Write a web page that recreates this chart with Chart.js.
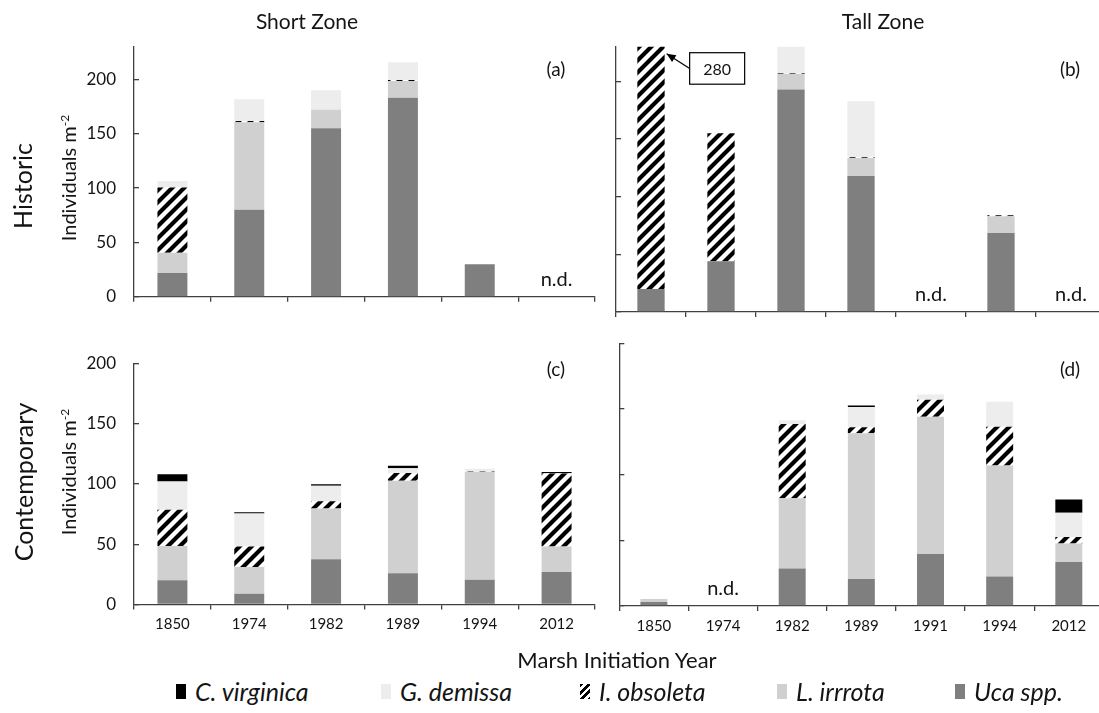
<!DOCTYPE html>
<html>
<head>
<meta charset="utf-8">
<title>Marsh invertebrate densities</title>
<script src="https://cdn.jsdelivr.net/npm/chart.js@4.4.1/dist/chart.umd.min.js"></script>
<style>
  html, body { margin: 0; padding: 0; background: #fff; }
  #page { position: relative; width: 1099px; height: 713px; overflow: hidden;
          font-family: Lato, "Open Sans", sans-serif; color: #141414; }
  #page canvas { position: absolute; }
  .txt { position: absolute; white-space: nowrap; transform: translate(-50%, -50%); line-height: 1; }
  .vert { position: absolute; white-space: nowrap; line-height: 1;
          transform: translate(-50%, -50%) rotate(-90deg); }
  .vert sup { font-size: 0.6em; vertical-align: 0.55em; }
  .leg { position: absolute; top: 691px; transform: translateY(-50%); display: flex; align-items: center;
         font-style: italic; font-size: 25px; white-space: nowrap; }
  .sw { width: 10px; height: 15px; margin-right: 9px; }
</style>
</head>
<body>
<div id="page">
  <canvas id="cA" width="600" height="330" style="left:0;top:0"></canvas>
  <canvas id="cB" width="520" height="330" style="left:590px;top:0"></canvas>
  <canvas id="cC" width="600" height="320" style="left:0;top:330px"></canvas>
  <canvas id="cD" width="520" height="320" style="left:590px;top:330px"></canvas>

  <div class="txt" style="left:307px;top:20px;font-size:21px">Short Zone</div>
  <div class="txt" style="left:883px;top:20px;font-size:21px">Tall Zone</div>

  <div class="vert" style="left:22px;top:186px;font-size:25px">Historic</div>
  <div class="vert" style="left:68px;top:178px;font-size:20px">Individuals m<sup>-2</sup></div>
  <div class="vert" style="left:23px;top:482px;font-size:25px">Contemporary</div>
  <div class="vert" style="left:68px;top:472px;font-size:20px">Individuals m<sup>-2</sup></div>

  <div class="txt" style="left:617px;top:660px;font-size:22px">Marsh Initiation Year</div>
  <div id="legend"></div>
</div>

<script>
// ---- categories ----
const shortYears = ['1850', '1974', '1982', '1989', '1994', '2012'];
const tallYears  = ['1850', '1974', '1982', '1989', '1991', '1994', '2012'];
const species = ['Uca spp.', 'L. irrrota', 'I. obsoleta', 'G. demissa', 'C. virginica'];
const legendOrder = ['C. virginica', 'G. demissa', 'I. obsoleta', 'L. irrrota', 'Uca spp.'];

// ---- (a) historic, short zone (null = no data) ----
const histShortUca = [22, 80, 155, 183, 30, null];
const histShortLit = [18.5, 80.5, 17, 15.5, 0, null];
const histShortIly = [60, 1.2, 0, 0.8, 0, null];
const histShortGeu = [6, 20, 18, 16.5, 0, null];
const histShortCra = [0, 0, 0, 0, 0, null];

// ---- (b) historic, tall zone ----
const histTallUca = [20, 44, 193, 118, null, 68.5, null];
const histTallLit = [0, 0, 13.5, 15.5, null, 14.5, null];
const histTallIly = [260, 111, 0.8, 0.6, null, 0.8, null];
const histTallGeu = [0, 0, 30, 48.5, null, 0, null];
const histTallCra = [0, 0, 0, 0, null, 0, null];

// ---- (c) contemporary, short zone ----
const contShortUca = [20, 9, 37.5, 26, 20.5, 27];
const contShortLit = [28.5, 22, 42, 76.5, 89.5, 21];
const contShortIly = [30, 17, 6, 6.5, 0.5, 60.5];
const contShortGeu = [23.5, 27.5, 13, 4, 2, 0.3];
const contShortCra = [6, 1, 1.2, 2, 0, 1];

// ---- (d) contemporary, tall zone ----
const contTallUca = [3, null, 28.5, 20.5, 39.5, 22.5, 33.5];
const contTallLit = [2.3, null, 53.5, 111, 104.5, 84.5, 14];
const contTallIly = [0, null, 56.5, 4.5, 13, 29.5, 5];
const contTallGeu = [0, null, 3, 15.5, 4, 19, 18.5];
const contTallCra = [0, null, 0, 1.2, 0, 0, 10];

// ---- styling ----
const AXIS = '#404040';
const TEXT = '#141414';
const FONT = 'Lato, "Open Sans", sans-serif';

function makeHatch() {
  const t = document.createElement('canvas');
  t.width = 12; t.height = 12;
  const g = t.getContext('2d');
  g.fillStyle = '#fff'; g.fillRect(0, 0, 12, 12);
  g.strokeStyle = '#000'; g.lineWidth = 4.2;
  g.beginPath();
  g.moveTo(-6, 18); g.lineTo(18, -6);
  g.moveTo(-12, 12); g.lineTo(12, -12);
  g.moveTo(0, 24); g.lineTo(24, 0);
  g.stroke();
  return g.createPattern(t, 'repeat');
}
const HATCH = makeHatch();
const fills = {
  'Uca spp.': '#7f7f7f',
  'L. irrrota': '#d0d0d0',
  'I. obsoleta': HATCH,
  'G. demissa': '#ededed',
  'C. virginica': '#000000'
};

// panel letter, "n.d." markers and the off-scale callout
const panelDecor = {
  id: 'panelDecor',
  afterDatasetsDraw(chart, args, o) {
    const { ctx, chartArea, scales: { x, y } } = chart;
    ctx.save();
    ctx.fillStyle = TEXT;
    ctx.textAlign = 'center';
    ctx.textBaseline = 'middle';
    ctx.font = '19px ' + FONT;
    ctx.fillText(o.tag, o.tagX, o.tagY);

    ctx.font = '20px ' + FONT;
    const n = chart.data.labels.length;
    const totals = [];
    for (let i = 0; i < n; i++) {
      const empty = chart.data.datasets.every(d => d.data[i] == null);
      totals.push(chart.data.datasets.reduce((s, d) => s + (d.data[i] || 0), 0));
      if (empty) ctx.fillText('n.d.', x.getPixelForValue(i), y.getPixelForValue(0) - 17);
    }

    // tallest bar running past the axis gets its total written in a box
    let iMax = 0;
    totals.forEach((t, i) => { if (t > totals[iMax]) iMax = i; });
    if (o.callout && totals[iMax] > y.max) {
      const el = chart.getDatasetMeta(0).data[iMax];
      const right = el.x + el.width / 2;
      const tipX = right + 2, tipY = chartArea.top + 7;
      const bl = right + 25, bt = chartArea.top + 6, bw = 55, bh = 31.5;
      const tailX = bl, tailY = bt + bh / 2;
      ctx.strokeStyle = '#000';
      ctx.lineWidth = 1.2;
      ctx.beginPath(); ctx.moveTo(tailX, tailY); ctx.lineTo(tipX, tipY); ctx.stroke();
      const ang = Math.atan2(tipY - tailY, tipX - tailX);
      const L = 9, W = 4;
      ctx.fillStyle = '#000';
      ctx.beginPath();
      ctx.moveTo(tipX, tipY);
      ctx.lineTo(tipX - L * Math.cos(ang) + W * Math.sin(ang), tipY - L * Math.sin(ang) - W * Math.cos(ang));
      ctx.lineTo(tipX - L * Math.cos(ang) - W * Math.sin(ang), tipY - L * Math.sin(ang) + W * Math.cos(ang));
      ctx.closePath(); ctx.fill();
      ctx.fillStyle = '#fff';
      ctx.fillRect(bl, bt, bw, bh);
      ctx.strokeRect(bl, bt, bw, bh);
      ctx.fillStyle = TEXT;
      ctx.font = '16px ' + FONT;
      ctx.fillText(String(Math.round(totals[iMax])), bl + bw / 2, bt + bh / 2 + 1);
    }
    ctx.restore();
  }
};

function panel(id, labels, series, cfg) {
  const datasets = species.map((sp, k) => ({
    label: sp,
    data: series[k],
    backgroundColor: fills[sp],
    borderWidth: 0,
    barPercentage: 0.39,
    categoryPercentage: 1.0,
    clip: 0
  }));
  return new Chart(document.getElementById(id), {
    type: 'bar',
    data: { labels, datasets },
    options: {
      responsive: false,
      animation: false,
      events: [],
      layout: { padding: cfg.padding },
      plugins: {
        legend: { display: false },
        tooltip: { enabled: false },
        panelDecor: { tag: cfg.tag, tagX: cfg.tagX, tagY: cfg.tagY, callout: !!cfg.callout }
      },
      scales: {
        x: {
          stacked: true,
          ticks: { display: cfg.xLabels, font: { family: FONT, size: 15 }, color: TEXT, padding: 6, maxRotation: 0 },
          grid: { drawOnChartArea: false, offset: true, tickLength: 5, color: AXIS, lineWidth: 1.3 },
          border: { display: true, color: AXIS, width: 1.3 },
          afterFit: s => { s.height = cfg.xHeight; }
        },
        y: {
          stacked: true,
          min: 0,
          max: cfg.yMax,
          afterBuildTicks: s => { s.ticks = s.ticks.filter(t => t.value % 50 === 0); },
          ticks: { display: cfg.yLabels, stepSize: 50, font: { family: FONT, size: 17 }, color: TEXT, padding: 23 },
          grid: { drawOnChartArea: false, tickLength: -5, color: AXIS, lineWidth: 1.3 },
          border: { display: true, color: AXIS, width: 1.3 },
          afterFit: s => { s.width = cfg.yWidth; }
        }
      }
    },
    plugins: [panelDecor]
  });
}

panel('cA', shortYears,
  [histShortUca, histShortLit, histShortIly, histShortGeu, histShortCra],
  { yMax: 230, yLabels: true, xLabels: false, yWidth: 134, xHeight: 18,
    padding: { top: 46.7, right: 5, bottom: 0, left: 0 }, tag: '(a)', tagX: 556, tagY: 70 });

panel('cB', tallYears,
  [histTallUca, histTallLit, histTallIly, histTallGeu, histTallCra],
  { yMax: 230, yLabels: false, xLabels: false, yWidth: 26, xHeight: 18, callout: true,
    padding: { top: 46.7, right: 4, bottom: 0, left: 0 }, tag: '(b)', tagX: 480, tagY: 70 });

panel('cC', shortYears,
  [contShortUca, contShortLit, contShortIly, contShortGeu, contShortCra],
  { yMax: 200, yLabels: true, xLabels: true, yWidth: 134, xHeight: 45.5,
    padding: { top: 11.7, right: 5, bottom: 0, left: 0 }, tag: '(c)', tagX: 556, tagY: 40 });

panel('cD', tallYears,
  [contTallUca, contTallLit, contTallIly, contTallGeu, contTallCra],
  { yMax: 200, yLabels: false, xLabels: true, yWidth: 29.3, xHeight: 44,
    padding: { top: 13.3, right: 6.6, bottom: 0, left: 0 }, tag: '(d)', tagX: 480, tagY: 40 });

// ---- shared legend ----
const legendLeft = { 'C. virginica': 176, 'G. demissa': 381, 'I. obsoleta': 580, 'L. irrrota': 777, 'Uca spp.': 955 };
const legend = document.getElementById('legend');
legendOrder.forEach(sp => {
  const item = document.createElement('div');
  item.className = 'leg';
  item.style.left = legendLeft[sp] + 'px';
  const sw = document.createElement('span');
  sw.className = 'sw';
  sw.style.background = sp === 'I. obsoleta'
    ? 'repeating-linear-gradient(135deg, #000 0 2.6px, #fff 2.6px 5.2px)'
    : fills[sp];
  const label = document.createElement('span');
  label.textContent = sp;
  item.appendChild(sw);
  item.appendChild(label);
  legend.appendChild(item);
});
</script>
</body>
</html>
